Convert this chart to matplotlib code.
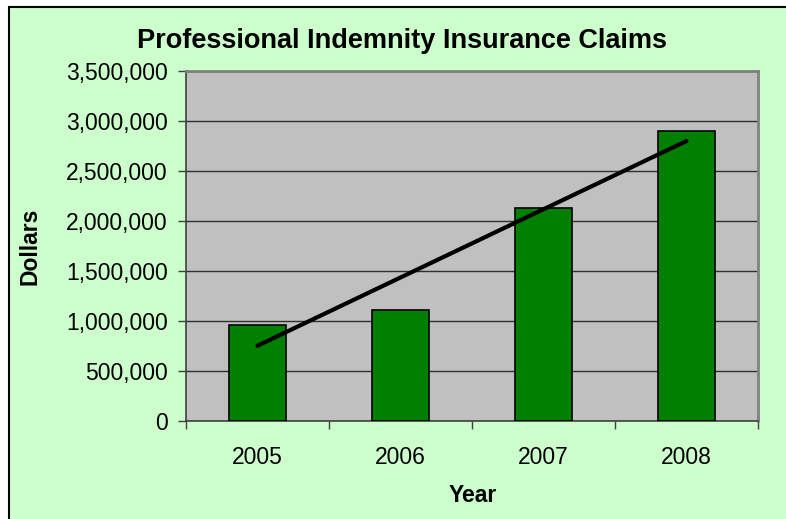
import matplotlib
matplotlib.use("Agg")
import matplotlib.pyplot as plt
import numpy as np
from matplotlib.patches import Rectangle
from matplotlib.ticker import FuncFormatter

years = ["2005", "2006", "2007", "2008"]
claims = [965000, 1110000, 2130000, 2900000]
y_ticks = [0, 500000, 1000000, 1500000, 2000000, 2500000, 3000000, 3500000]

plt.rcParams["font.family"] = ["Liberation Sans", "DejaVu Sans"]

fig = plt.figure(figsize=(7.86, 5.19), dpi=100)
fig.patch.set_facecolor("white")
# chart area background with a border on the visible left/top edges
fig.patches.append(Rectangle((9 / 786, -0.1), 1.2, 1.1 - 7 / 519,
                             transform=fig.transFigure, facecolor="#ccffcc",
                             edgecolor="black", linewidth=1.5, zorder=-5))

ax = fig.add_axes([186 / 786, 1 - 421 / 519, (758 - 186) / 786, (421 - 71) / 519])
ax.set_zorder(2)
ax.set_facecolor("#c0c0c0")

x = np.arange(len(years))
ax.bar(x, claims, width=0.4, color="#008000", edgecolor="black", linewidth=1.2, zorder=3)

# linear trendline
k, b = np.polyfit(x, claims, 1)
ax.plot(x, k * x + b, color="black", linewidth=3, solid_capstyle="round", zorder=4)

ax.set_xlim(-0.5, len(years) - 0.5)
ax.set_ylim(0, 3500000)
ax.set_yticks(y_ticks)
ax.yaxis.set_major_formatter(FuncFormatter(lambda v, p: f"{int(v):,}"))
ax.set_xticks(x)
ax.set_xticklabels(years)
ax.set_xticks(np.arange(len(years) + 1) - 0.5, minor=True)
ax.tick_params(axis="x", which="major", length=0, pad=18, labelsize=16.5)
ax.tick_params(axis="x", which="minor", length=6, color="#404040", width=1)
ax.tick_params(axis="y", length=6, color="#404040", width=1, labelsize=16.5, pad=7)

ax.yaxis.grid(True, color="#303030", linewidth=1)
ax.set_axisbelow(True)
for side in ["left", "bottom"]:
    ax.spines[side].set_color("#404040")
    ax.spines[side].set_linewidth(1.2)
for side in ["top", "right"]:
    ax.spines[side].set_color("#808080")
    ax.spines[side].set_linewidth(2)

fig.text(402 / 786, 1 - 41 / 519, "Professional Indemnity Insurance Claims",
         ha="center", va="center", fontsize=19.5, fontweight="bold")
fig.text(30 / 786, 1 - 246 / 519, "Dollars", rotation=90, ha="center", va="center",
         fontsize=16.5, fontweight="bold")
fig.text(472.5 / 786, 1 - 495 / 519, "Year", ha="center", va="center",
         fontsize=16.5, fontweight="bold")

fig.savefig("out.png", dpi=100)
